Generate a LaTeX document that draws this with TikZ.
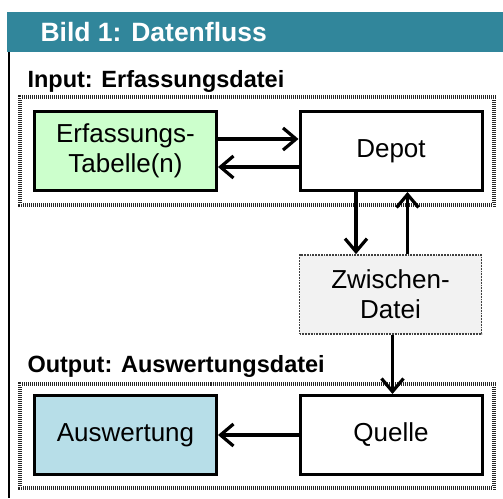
\documentclass[tikz,border=0pt]{standalone}
\usepackage{fontspec}
\setmainfont{Liberation Sans}
\usepackage{xcolor}
\usetikzlibrary{arrows.meta}

\definecolor{titelblau}{HTML}{31869B}
\definecolor{gruen}{HTML}{CCFFCC}
\definecolor{hellblau}{HTML}{B7DEE8}
\definecolor{hellgrau}{HTML}{F2F2F2}

\tikzset{
	kasten/.style={draw, line width=3pt, minimum width=182pt, minimum height=79pt,
		inner sep=0pt, align=center, font=\fontsize{26}{30}\selectfont},
	zwkasten/.style={kasten, draw=black!75, line width=1.8pt, densely dotted, fill=hellgrau},
	rahmen/.style={draw=black!85, line width=3.6pt},
	rahmenmuster/.style={draw=white, line width=3.6pt, dash pattern=on 0.5pt off 1.5pt},
	pfeil/.style={line width=3.2pt, -{Straight Barb[length=13pt,width=22pt,line width=3.2pt]}},
	ueber/.style={anchor=west, font=\fontsize{23.5}{27}\selectfont\bfseries},
}

\begin{document}
\begin{tikzpicture}[x=1pt,y=-1pt]
		\useasboundingbox (0,0) rectangle (503,498);
		% Titelleiste
		\fill[titelblau] (7,12) rectangle (503,52);
		\node[anchor=west, text=white, font=\fontsize{26.5}{30}\selectfont\bfseries] (T) at (37,32) {Bild 1: Datenfluss};
		\draw[line width=2.6pt] (9,52) -- (9,498);
		%
		\draw[rahmen] (20,97) rectangle (494,205);
		\draw[rahmenmuster] (20,97) rectangle (494,205);
		\draw[rahmen] (20,384) rectangle (494,488);
		\draw[rahmenmuster] (20,384) rectangle (494,488);
		\node[ueber] (I) at (24,81) {Input: Erfassungsdatei};
		\node[ueber] (O) at (24,366) {Output: Auswertungsdatei};
		%
		\node[kasten, fill=gruen] (E) at (125.5,151) {Erfassungs-\\Tabelle(n)};
		\node[kasten, fill=white] (D) at (391,151) {Depot};
		\node[zwkasten] (Z) at (390.5,294.5) {Zwischen-\\Datei};
		\node[kasten, fill=hellblau] (A) at (125.5,435) {Auswertung};
		\node[kasten, fill=white] (Q) at (391,435) {Quelle};
		%
		\path[pfeil]
		([yshift=12pt]E.east) edge ([yshift=12pt]D.west)
		([yshift=-16pt]D.west) edge ([yshift=-16pt]E.west -| E.east)
		([xshift=-35pt]D.south) edge ([xshift=-35pt]D.south |- Z.north)
		([xshift=17pt]Z.north) edge ([xshift=17pt]Z.north |- D.south)
		([xshift=2pt]Z.south) edge ([xshift=2pt]Z.south |- Q.north)
		(Q.west) edge (A.east);
		\end{tikzpicture}
\end{document}
